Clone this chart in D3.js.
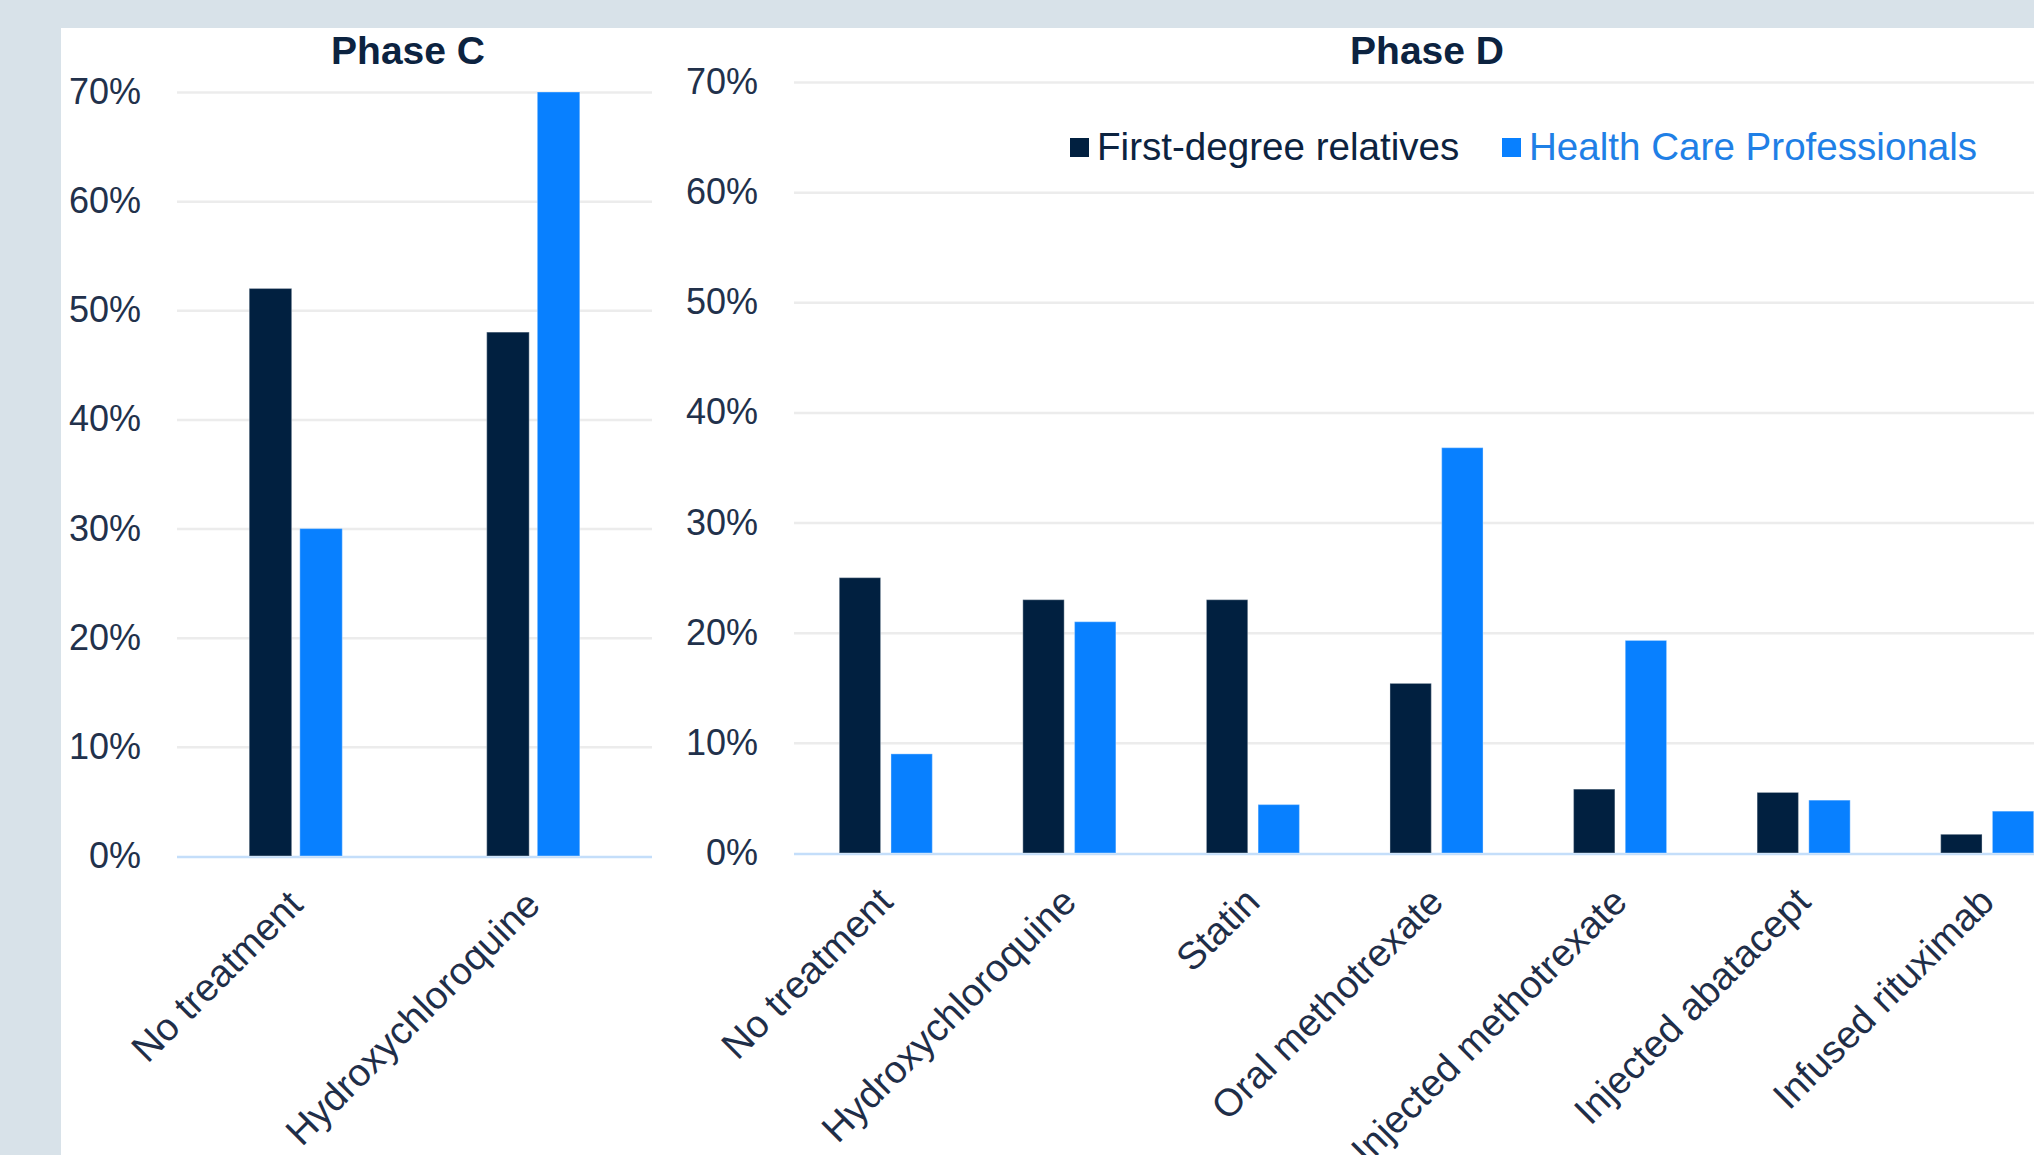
<!DOCTYPE html>
<html>
<head>
<meta charset="utf-8">
<script src="https://cdn.jsdelivr.net/npm/d3@7"></script>
<style>
  html, body { margin: 0; padding: 0; background: #d8e2e9; overflow: hidden; }
  svg { display: block; }
</style>
</head>
<body>
<script>
// ---- data ----
const seriesNames = ["First-degree relatives", "Health Care Professionals"];
const seriesColors = ["#012040", "#0880ff"];
const yTicks = [0, 10, 20, 30, 40, 50, 60, 70];

const phaseCCategories = ["No treatment", "Hydroxychloroquine"];
const phaseCRelatives = [52, 48];
const phaseCProfessionals = [30, 70];

const phaseDCategories = ["No treatment", "Hydroxychloroquine", "Statin", "Oral methotrexate",
  "Injected methotrexate", "Injected abatacept", "Infused rituximab"];
const phaseDRelatives = [25, 23, 23, 15.4, 5.8, 5.5, 1.7];
const phaseDProfessionals = [9, 21, 4.4, 36.8, 19.3, 4.8, 3.8];

// ---- canvas ----
const W = 2034, H = 1155;
const FONT = "'Liberation Sans', Arial, Helvetica, sans-serif";
const svg = d3.select("body").append("svg")
  .attr("width", W).attr("height", H)
  .style("font-family", FONT);

// slide background with the white chart panel
svg.append("rect").attr("x", 0).attr("y", 0).attr("width", W).attr("height", H).attr("fill", "#d8e2e9");
svg.append("rect").attr("x", 61).attr("y", 28).attr("width", W - 61).attr("height", H - 28).attr("fill", "#ffffff");

function drawPanel(cfg) {
  const g = svg.append("g");
  const rows = cfg.categories.map((c, i) => ({
    category: c,
    values: [cfg.relatives[i], cfg.professionals[i]]
  }));

  const y = d3.scaleLinear().domain([0, 70]).range([cfg.yZero, cfg.yTop]);
  const x0 = d3.scaleBand().domain(cfg.categories).range(cfg.xRange)
    .paddingInner(cfg.groupPad).paddingOuter(cfg.groupPad / 2);
  const x1 = d3.scaleBand().domain(d3.range(seriesNames.length))
    .range([0, x0.bandwidth()]).paddingInner(cfg.barPad);

  // value axis with gridlines
  const yAxis = d3.axisLeft(y)
    .tickValues(yTicks)
    .tickFormat(d => d + "%")
    .tickSize(-(cfg.xRange[1] - cfg.xRange[0]))
    .tickPadding(36);
  const ya = g.append("g").attr("transform", `translate(${cfg.xRange[0]},0)`).call(yAxis);
  ya.select(".domain").remove();
  ya.selectAll(".tick line").attr("stroke", "#ececec").attr("stroke-width", 2.5)
    .filter(d => d === 0).remove();
  ya.selectAll(".tick text")
    .attr("fill", "#22314b").attr("font-size", 36).attr("font-family", FONT);

  // category baseline
  g.append("line")
    .attr("x1", cfg.xRange[0]).attr("x2", cfg.xRange[1])
    .attr("y1", y(0) + 1).attr("y2", y(0) + 1)
    .attr("stroke", "#c4defa").attr("stroke-width", 2.5);

  // bars
  const groups = g.selectAll("g.group").data(rows).join("g")
    .attr("class", "group")
    .attr("transform", d => `translate(${x0(d.category)},0)`);
  groups.selectAll("rect").data(d => d.values).join("rect")
    .attr("x", (v, i) => x1(i))
    .attr("width", x1.bandwidth())
    .attr("y", v => y(v))
    .attr("height", v => y(0) - y(v))
    .attr("fill", (v, i) => seriesColors[i])
    .attr("stroke", "#ffffff").attr("stroke-opacity", 0.3).attr("stroke-width", 1.2);

  // rotated category labels
  const xAxis = d3.axisBottom(x0).tickSize(0).tickPadding(0);
  const xa = g.append("g").attr("transform", `translate(0,${y(0)})`).call(xAxis);
  xa.select(".domain").remove();
  xa.selectAll(".tick text")
    .attr("y", 0).attr("dy", 0).attr("x", 0)
    .attr("transform", "translate(9,51) rotate(-45)")
    .style("text-anchor", "end")
    .attr("fill", "#1f2e48").attr("font-size", 38.5).attr("font-family", FONT);

  // panel title
  g.append("text")
    .attr("x", cfg.titleX).attr("y", 64)
    .attr("text-anchor", "middle")
    .attr("font-weight", "bold").attr("font-size", 39)
    .attr("fill", "#0c2340")
    .text(cfg.title);
}

drawPanel({
  title: "Phase C",
  categories: phaseCCategories,
  relatives: phaseCRelatives,
  professionals: phaseCProfessionals,
  xRange: [177, 652],
  yZero: 856, yTop: 92,
  groupPad: 0.608, barPad: 0.16,
  titleX: 408
});

drawPanel({
  title: "Phase D",
  categories: phaseDCategories,
  relatives: phaseDRelatives,
  professionals: phaseDProfessionals,
  xRange: [794, 2079],
  yZero: 853, yTop: 82,
  groupPad: 0.493, barPad: 0.2,
  titleX: 1427
});

// legend
const legend = svg.append("g");
const legendItems = [
  { name: seriesNames[0], color: seriesColors[0], text: "#0c2340", x: 1070 },
  { name: seriesNames[1], color: seriesColors[1], text: "#1f80e6", x: 1502 }
];
const li = legend.selectAll("g").data(legendItems).join("g")
  .attr("transform", d => `translate(${d.x},0)`);
li.append("rect").attr("x", 0).attr("y", 138).attr("width", 19).attr("height", 19)
  .attr("fill", d => d.color);
li.append("text").attr("x", 27).attr("y", 160)
  .attr("font-size", 38.6).attr("fill", d => d.text)
  .text(d => d.name);
</script>
</body>
</html>
